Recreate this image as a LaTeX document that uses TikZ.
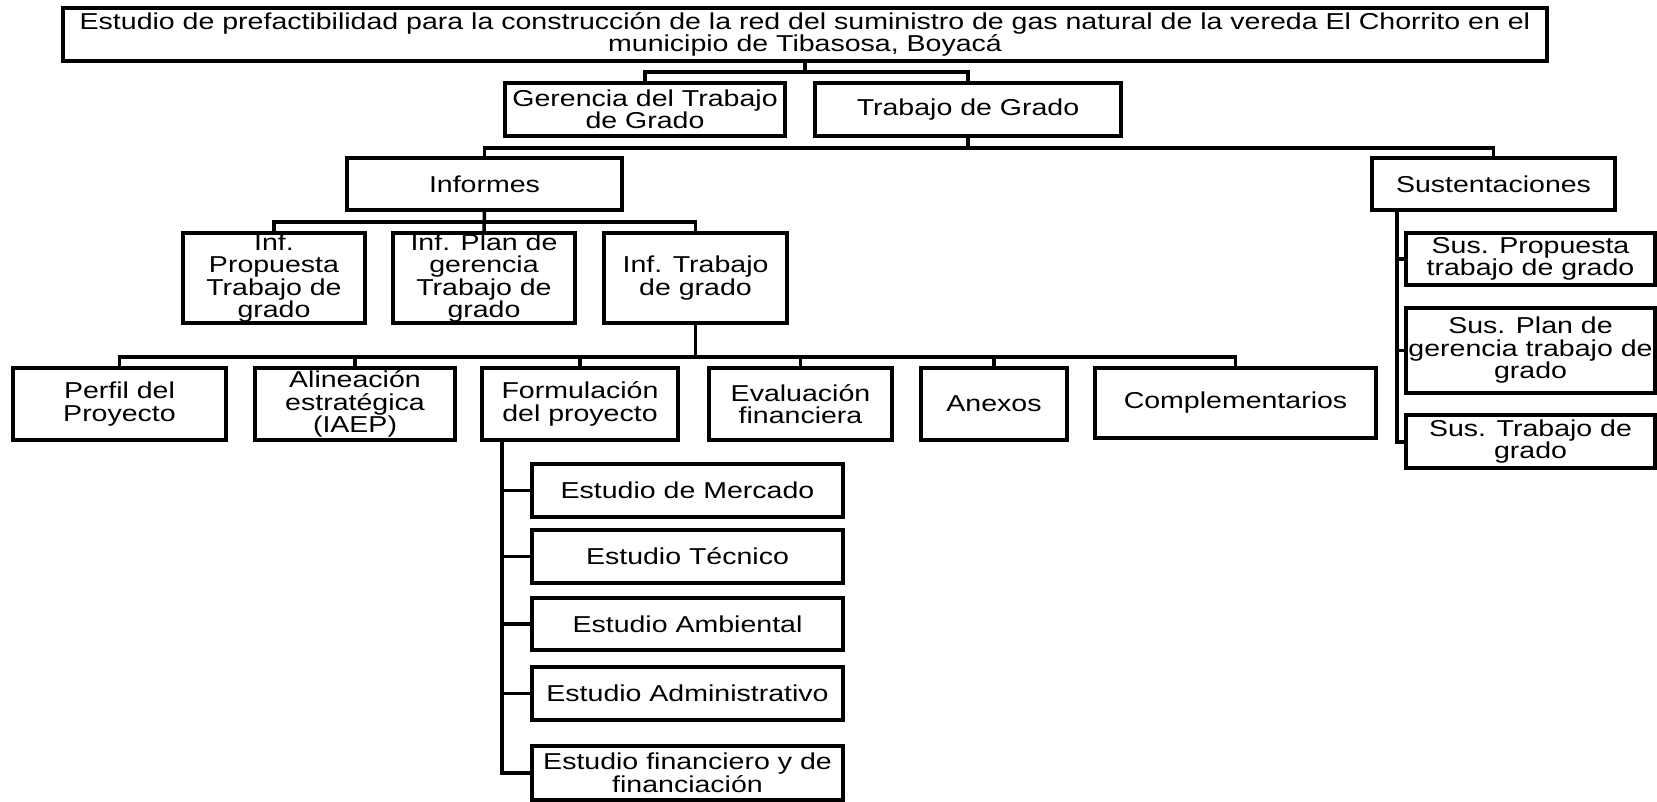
\documentclass[tikz,border=0pt]{standalone}
\usepackage{fontspec}
\setmainfont{Liberation Sans}[FakeStretch=1.24]
\usetikzlibrary{calc}
\begin{document}
\begin{tikzpicture}[x=1pt,y=-1pt,
  box/.style={draw, line width=3.5pt, align=center, inner sep=0pt, outer sep=0pt,
    font=\fontsize{23pt}{22.5pt}\selectfont},
  conn/.style={line width=3.5pt}]
\fill[white] (0,0) rectangle (1657,801);
\useasboundingbox (0,0) rectangle (1657,801);

% level 0
\node[box, minimum width=1484pt, minimum height=53pt] (top) at (805,34.5)
  {Estudio de prefactibilidad para la construcción de la red del suministro de gas natural de la vereda El Chorrito en el\\municipio de Tibasosa, Boyacá};
% level 1
\node[box, minimum width=280pt, minimum height=53pt] (ger) at (645,109.5) {Gerencia del Trabajo\\de Grado};
\node[box, minimum width=306pt, minimum height=53pt] (tdg) at (968,109.5) {Trabajo de Grado};
% level 2
\node[box, minimum width=275pt, minimum height=52pt] (inf) at (484.5,184) {Informes};
\node[box, minimum width=243pt, minimum height=52pt] (sus) at (1493.5,184) {Sustentaciones};
% level 3 (informes)
\node[box, minimum width=182pt, minimum height=90pt] (ip) at (274,278) {Inf.\\Propuesta\\Trabajo de\\grado};
\node[box, minimum width=182pt, minimum height=90pt] (ipl) at (484,278) {Inf. Plan de\\gerencia\\Trabajo de\\grado};
\node[box, minimum width=183pt, minimum height=90pt] (itg) at (695.5,278) {Inf. Trabajo\\de grado};
% level 4
\node[box, minimum width=213pt, minimum height=72pt] (perfil) at (119.5,404) {Perfil del\\Proyecto};
\node[box, minimum width=200pt, minimum height=72pt] (alin) at (355,404) {Alineación\\estratégica\\(IAEP)};
\node[box, minimum width=196pt, minimum height=72pt] (form) at (580,404) {Formulación\\del proyecto};
\node[box, minimum width=183pt, minimum height=72pt] (eval) at (800.5,404) {Evaluación\\financiera};
\node[box, minimum width=146pt, minimum height=72pt] (anex) at (994,404) {Anexos};
\node[box, minimum width=281pt, minimum height=70pt] (comp) at (1235.5,403) {Complementarios};
% estudios
\node[box, minimum width=311pt, minimum height=53pt] (merc) at (687.5,490.5) {Estudio de Mercado};
\node[box, minimum width=311pt, minimum height=53pt] (tec) at (687.5,556.5) {Estudio Técnico};
\node[box, minimum width=311pt, minimum height=52pt] (amb) at (687.5,624) {Estudio Ambiental};
\node[box, minimum width=311pt, minimum height=53pt] (adm) at (687.5,693.5) {Estudio Administrativo};
\node[box, minimum width=311pt, minimum height=54pt] (fin) at (687.5,773) {Estudio financiero y de\\financiación};
% sustentaciones
\node[box, minimum width=249pt, minimum height=52pt] (sp) at (1530.5,259) {Sus. Propuesta\\trabajo de grado};
\node[box, minimum width=249pt, minimum height=85pt] (spl) at (1530.5,350.5) {Sus. Plan de\\gerencia trabajo de\\grado};
\node[box, minimum width=249pt, minimum height=53pt] (st) at (1530.5,441.5) {Sus. Trabajo de\\grado};

% connectors
\draw[conn] (top.south) -- ++(0,-11pt);
\draw[conn] (ger.north) -- ++(0,11pt) -| (tdg.north);

\draw[conn] (tdg.south) -- ++(0,-12pt);
\draw[conn] (inf.north) -- ++(0,10pt) -| (sus.north);

\draw[conn] (inf.south) -- (ipl.north);
\draw[conn] (ip.north) -- ++(0,11pt) -| (itg.north);

\draw[conn] (itg.south) -- ++(0,-34pt);
\draw[conn] (perfil.north) -- ++(0,11pt) -| (comp.north);
\draw[conn] (alin.north) -- ++(0,11pt);
\draw[conn] (form.north) -- ++(0,11pt);
\draw[conn] (eval.north) -- ++(0,11pt);
\draw[conn] (anex.north) -- ++(0,11pt);

\coordinate (fv) at ([xshift=20pt]form.south west);
\draw[conn] (fv) |- (fin.west);
\foreach \n in {merc,tec,amb,adm} \draw[conn] (\n.west) -- (\n.west -| fv);

\coordinate (sv) at ([xshift=25pt]sus.south west);
\draw[conn, line width=4pt] (sv) |- (st.west);
\foreach \n in {sp,spl} \draw[conn] (\n.west) -- (\n.west -| sv);
\end{tikzpicture}
\end{document}
